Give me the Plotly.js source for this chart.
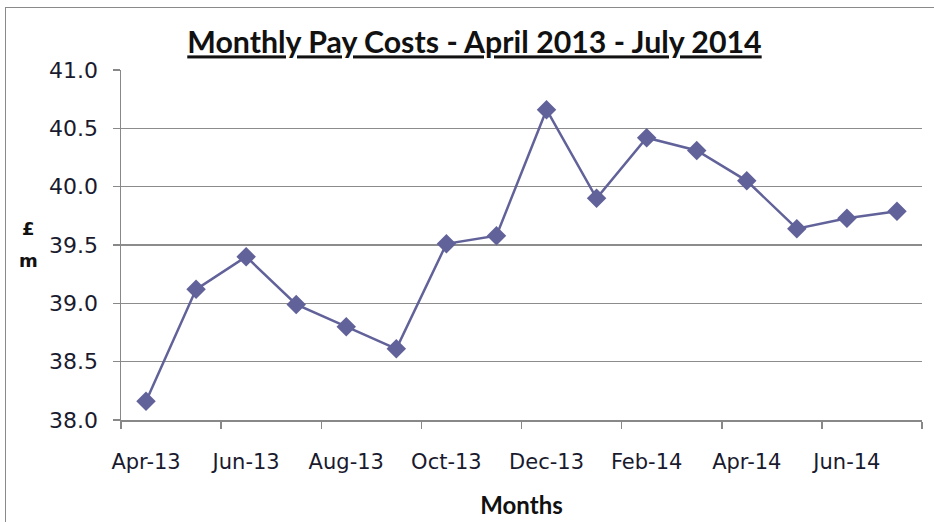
<!DOCTYPE html>
<html><head><meta charset="utf-8">
<script src="https://cdn.plot.ly/plotly-3.0.1.min.js"></script>
<style>
html,body{margin:0;padding:0;background:#fff;}
#wrap{position:absolute;left:0;top:0;width:934px;height:522px;}
#frame{position:absolute;left:5px;top:7px;width:940px;height:530px;border:1.5px solid #8a8a8a;pointer-events:none;}
#chart{position:absolute;left:0;top:0;width:934px;height:522px;}
</style></head>
<body><div id="wrap"><div id="chart"></div><div id="frame"></div></div>
<script>
const months = ["Apr-13","May-13","Jun-13","Jul-13","Aug-13","Sep-13","Oct-13","Nov-13","Dec-13","Jan-14","Feb-14","Mar-14","Apr-14","May-14","Jun-14","Jul-14"];
const payCosts = [38.16,39.12,39.40,38.99,38.80,38.61,39.51,39.58,40.66,39.90,40.42,40.31,40.05,39.64,39.73,39.79];
const yTicks = [38.0,38.5,39.0,39.5,40.0,40.5,41.0];

const lineColor = '#62629a';
const trace = {
  x: months, y: payCosts, type:'scatter', mode:'lines+markers',
  line:{color:lineColor, width:2.5},
  marker:{symbol:'diamond', size:15, color:lineColor},
  hoverinfo:'x+y'
};
const layout = {
  width:934, height:522,
  margin:{l:121, r:12, t:70, b:102},
  paper_bgcolor:'rgba(0,0,0,0)', plot_bgcolor:'#fff',
  showlegend:false,
  title:{text:'<b><span style="text-decoration:underline">Monthly Pay Costs - April 2013 - July 2014</span></b>',
    x:0.508, xanchor:'center', y:0.918, yanchor:'middle',
    font:{family:'Lato, sans-serif', size:30.3, color:'#111'}},
  xaxis:{type:'category', categoryorder:'array', categoryarray:months,
    range:[-0.5,15.5], dtick:2, tickson:'boundaries', tickangle:0,
    ticks:'outside', ticklen:7, tickcolor:'#888', tickwidth:1.5,
    ticklabelstandoff:22,
    showline:true, linecolor:'#888', linewidth:1.5, showgrid:false, zeroline:false,
    tickfont:{family:'"DejaVu Sans", Verdana, sans-serif', size:21, color:'#1a1a2e'},
    title:{text:'<b>Months</b>', standoff:24, font:{family:'Lato, sans-serif', size:24, color:'#111'}}},
  yaxis:{range:[38,41], tickvals:yTicks, tickformat:'.1f',
    ticks:'outside', ticklen:7, tickcolor:'#888', tickwidth:1.5,
    ticklabelstandoff:10,
    showline:true, linecolor:'#888', linewidth:1.5,
    showgrid:true, gridcolor:'#8c8c8c', gridwidth:1.5, zeroline:false,
    tickfont:{family:'"DejaVu Sans", Verdana, sans-serif', size:22, color:'#1a1a2e'}},
  annotations:[
    {text:'<b>£</b>', xref:'paper', yref:'y', x:-0.116, y:39.64,
     xanchor:'center', yanchor:'middle', showarrow:false,
     font:{family:'"DejaVu Sans", sans-serif', size:18, color:'#111'}},
    {text:'<b>m</b>', xref:'paper', yref:'y', x:-0.116, y:39.37,
     xanchor:'center', yanchor:'middle', showarrow:false,
     font:{family:'"DejaVu Sans", sans-serif', size:18, color:'#111'}}
  ]
};
Plotly.newPlot('chart',[trace],layout,{displayModeBar:false,staticPlot:true});
</script></body></html>
